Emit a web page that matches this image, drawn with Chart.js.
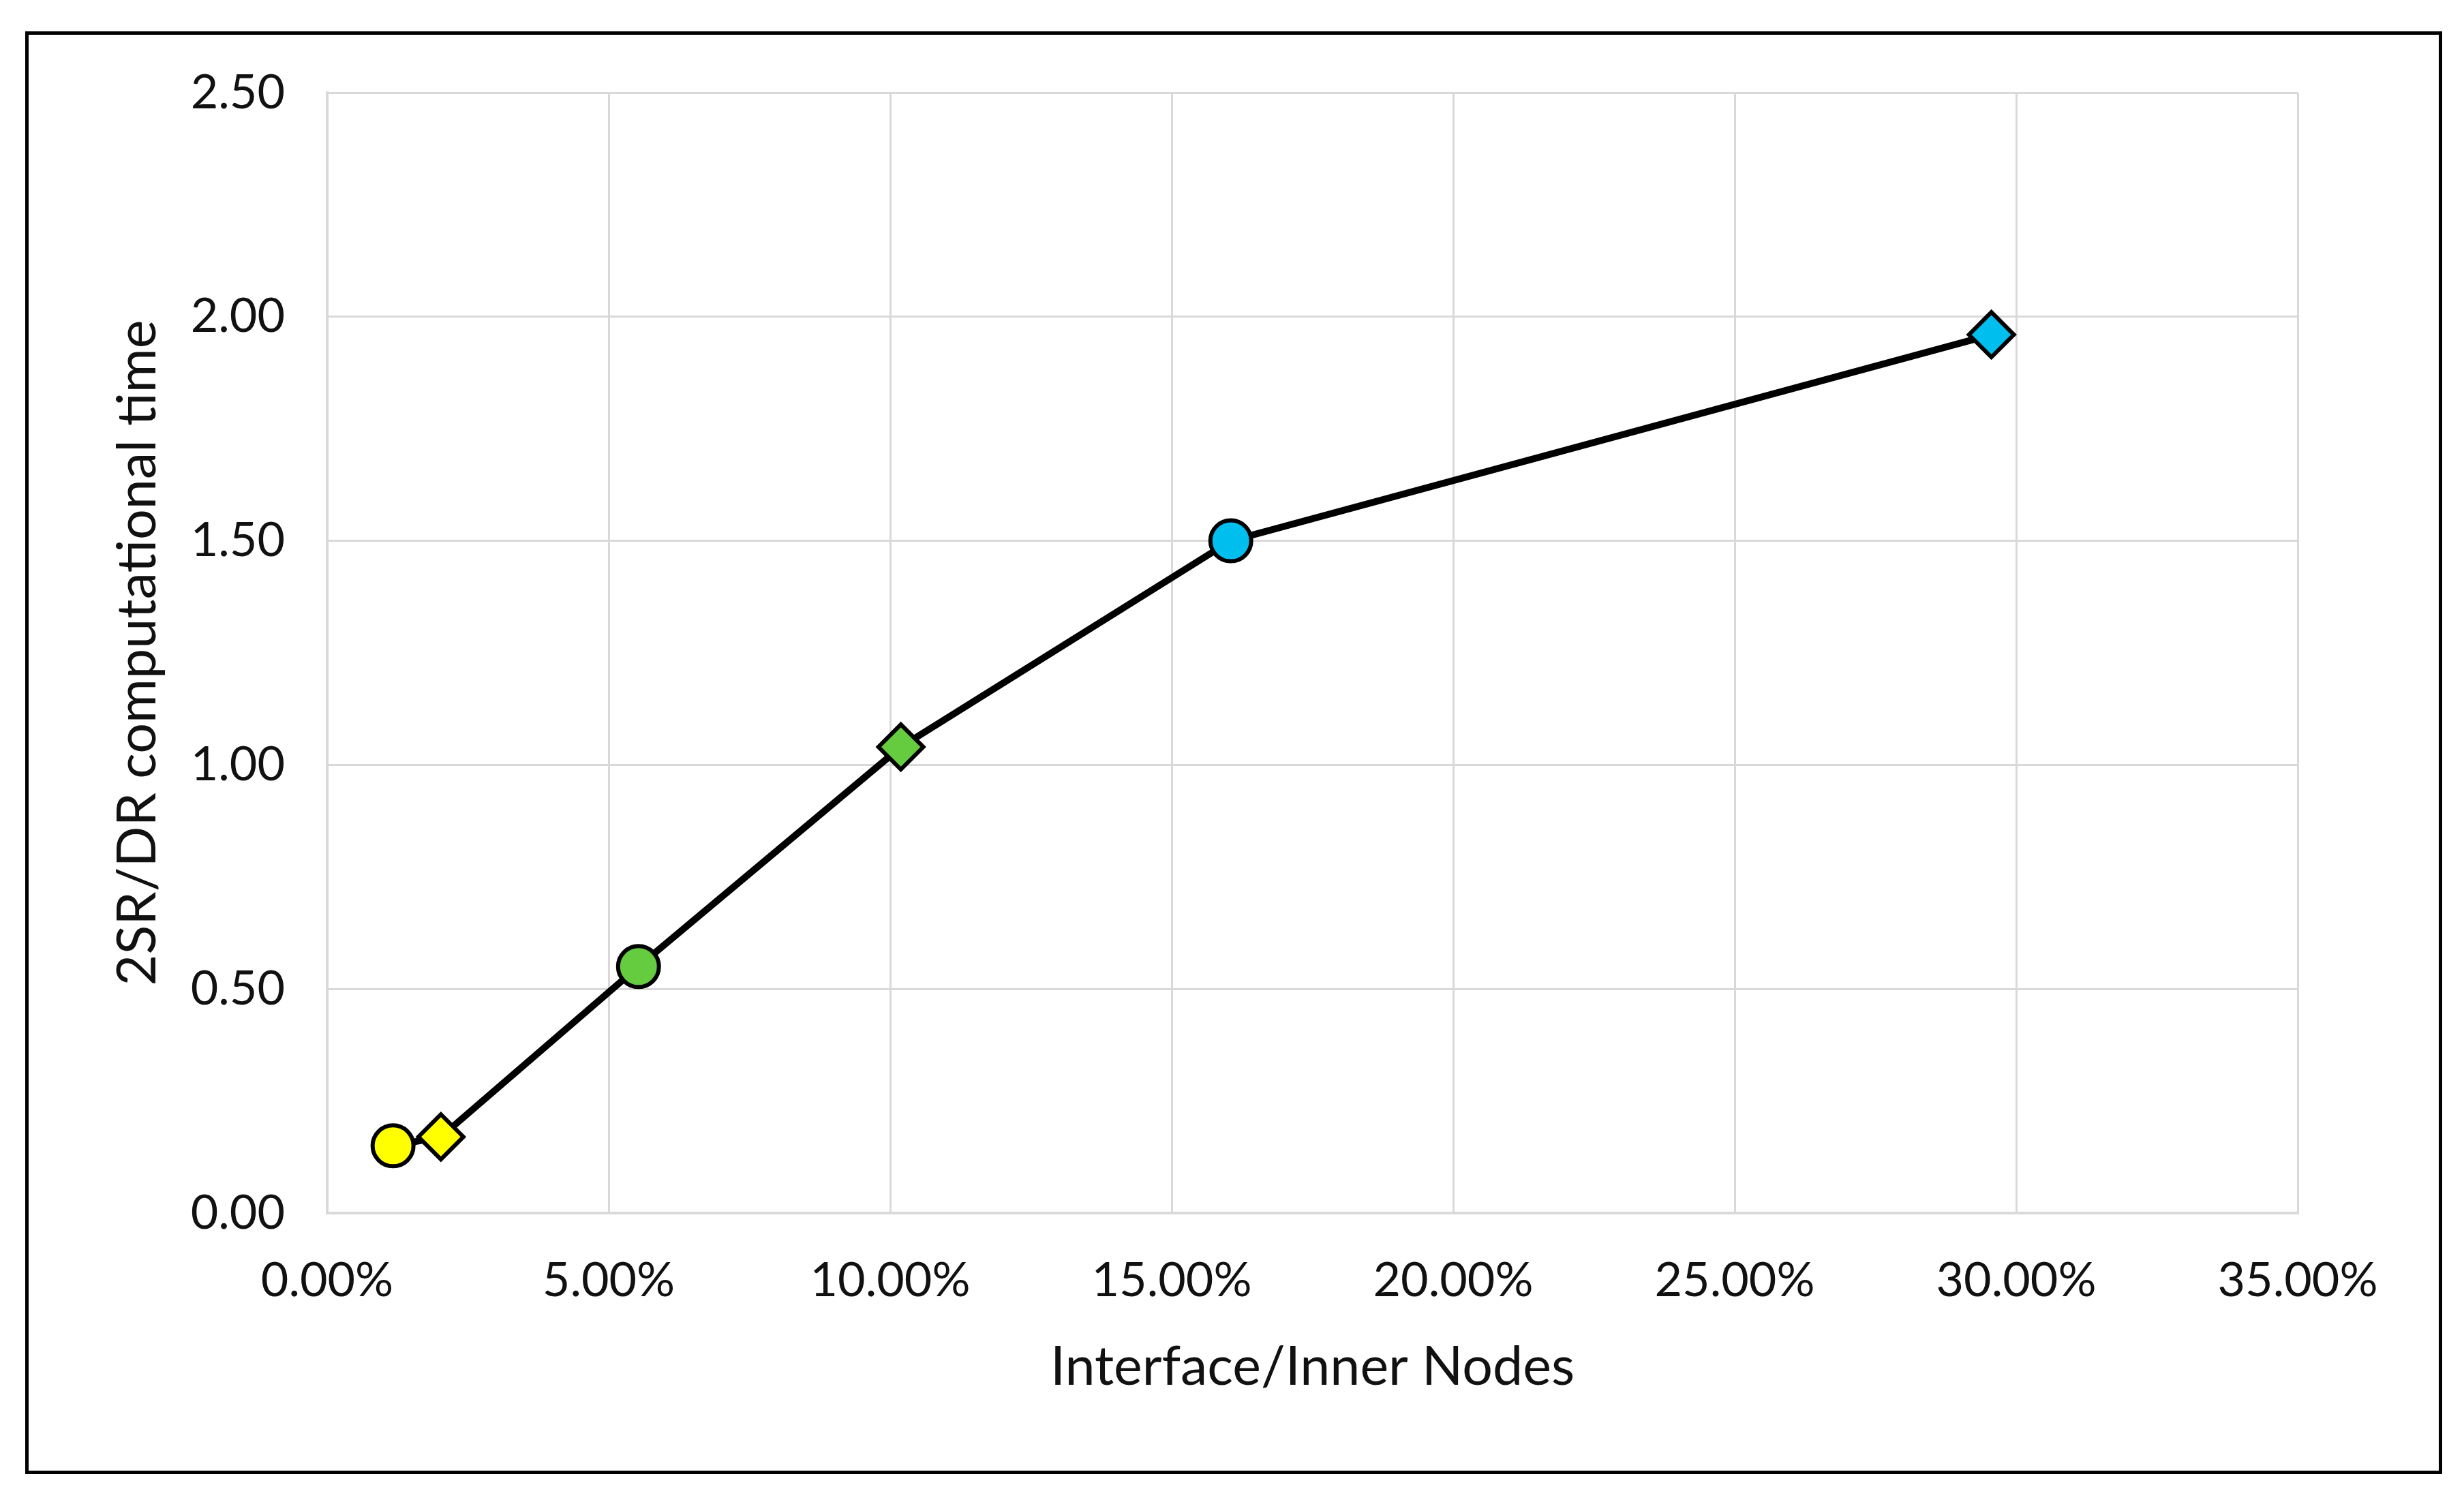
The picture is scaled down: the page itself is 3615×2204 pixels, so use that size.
<!DOCTYPE html>
<html>
<head>
<meta charset="utf-8">
<script src="https://cdn.jsdelivr.net/npm/chart.js@4.4.1/dist/chart.umd.min.js"></script>
<style>
  html, body { margin: 0; padding: 0; background: #fff; }
  #wrap { position: relative; width: 3615px; height: 2204px; }
  #frame {
    position: absolute; left: 37px; top: 46px; width: 3546px; height: 2117px;
    border: 5px solid #000; box-sizing: border-box; pointer-events: none;
  }
  canvas { position: absolute; left: 0; top: 0; }
</style>
</head>
<body>
<div id="wrap">
  <canvas id="chart" width="3615" height="2204"></canvas>
  <div id="frame"></div>
</div>
<script>
// data (x in percent)
const ratioPct = [1.17, 2.02, 5.53, 10.19, 16.05, 29.56];
const timeRatio = [0.15, 0.17, 0.55, 1.04, 1.50, 1.96];
const markerColors = ['#FFFF00', '#FFFF00', '#66CC3F', '#66CC3F', '#00BFEF', '#00BFEF'];
const markerShapes = ['circle', 'rectRot', 'circle', 'rectRot', 'circle', 'rectRot'];
const markerSizes = [30, 33, 30, 33, 30, 33];

const xTitle = 'Interface/Inner Nodes';
const yTitle = '2SR/DR computational time';

const FONT = 'Lato, "Liberation Sans", sans-serif';
const GRID = '#d9d9d9';

const points = ratioPct.map((x, i) => ({ x: x, y: timeRatio[i] }));

new Chart(document.getElementById('chart').getContext('2d'), {
    type: 'scatter',
    data: {
        datasets: [{
            data: points,
            showLine: true,
            tension: 0,
            borderColor: '#000',
            borderWidth: 10,
            pointStyle: markerShapes,
            pointRadius: markerSizes,
            pointBackgroundColor: markerColors,
            pointBorderColor: '#000',
            pointBorderWidth: 6
        }]
    },
    options: {
        responsive: false,
        animation: false,
        layout: { padding: { left: 0, top: 136, right: 244, bottom: 0 } },
        plugins: { legend: { display: false }, tooltip: { enabled: false } },
        scales: {
            x: {
                type: 'linear',
                min: 0, max: 35,
                afterFit: s => { s.height = 424; },
                grid: { color: GRID, lineWidth: 3, drawTicks: false },
                border: { color: GRID, width: 4 },
                ticks: {
                    stepSize: 5, padding: 57, color: '#111',
                    font: { family: FONT, size: 70 },
                    callback: v => v.toFixed(2) + '%'
                },
                title: {
                    display: true, text: xTitle, color: '#111',
                    font: { family: FONT, size: 79 },
                    padding: { top: 0, bottom: 150 }
                }
            },
            y: {
                type: 'linear',
                min: 0, max: 2.5,
                afterFit: s => { s.width = 480; },
                grid: { color: GRID, lineWidth: 3, drawTicks: false },
                border: { color: GRID, width: 4 },
                ticks: {
                    stepSize: 0.5, padding: 62, color: '#111',
                    font: { family: FONT, size: 70 },
                    callback: v => v.toFixed(2)
                },
                title: {
                    display: true, text: yTitle, color: '#111',
                    font: { family: FONT, size: 79 },
                    padding: { top: 155, bottom: 0 }
                }
            }
        }
    }
});
</script>
</body>
</html>
